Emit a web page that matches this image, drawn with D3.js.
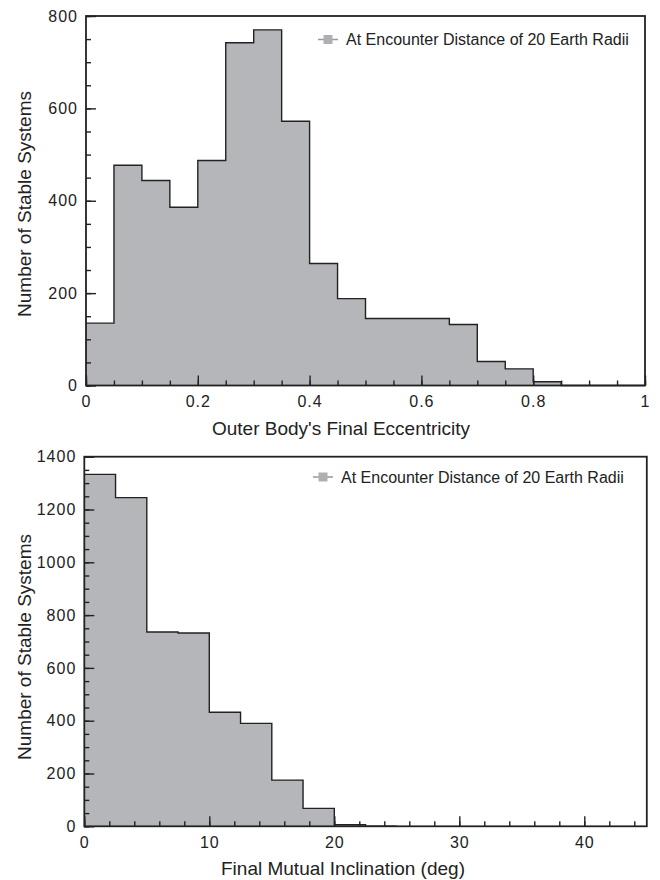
<!DOCTYPE html>
<html>
<head>
<meta charset="utf-8">
<script src="https://cdn.jsdelivr.net/npm/d3@7"></script>
<style>
  body { margin: 0; background: #fff; }
  text { font-family: "Liberation Sans", Arial, sans-serif; fill: #222; }
</style>
</head>
<body>
<svg id="chart" width="660" height="880"></svg>
<script>
// eccentricity histogram (bin width 0.05)
var eccBins = [0, 0.05, 0.1, 0.15, 0.2, 0.25, 0.3, 0.35, 0.4, 0.45, 0.5, 0.55, 0.6, 0.65, 0.7, 0.75, 0.8, 0.85, 0.9, 0.95];
var eccCounts = [135, 477, 444, 386, 487, 742, 770, 572, 264, 188, 145, 145, 145, 132, 52, 36, 8, 0, 0, 0];
var eccTicks = [0, 0.2, 0.4, 0.6, 0.8, 1];

// inclination histogram (bin width 2.5 deg)
var incBins = [0, 2.5, 5, 7.5, 10, 12.5, 15, 17.5, 20, 22.5];
var incCounts = [1333, 1245, 736, 732, 432, 390, 175, 68, 6, 0];
var incTicks = [0, 10, 20, 30, 40];

var legendLabel = "At Encounter Distance of 20 Earth Radii";

var svg = d3.select("#chart");

function drawPanel(opt) {
    var x = d3.scaleLinear().domain(opt.xDomain).range([opt.left, opt.right]);
    var y = d3.scaleLinear().domain(opt.yDomain).range([opt.bottom, opt.top]);
    var g = svg.append("g");

    // step points, closing at the end of the last bin
    var pts = opt.bins.map(function (b, i) { return [b, opt.counts[i]]; });
    var last = opt.bins.length - 1;
    pts.push([opt.bins[last] + opt.binWidth, opt.counts[last]]);

    g.append("path")
        .datum(pts)
        .attr("fill", "#b5b6b9")
        .attr("d", d3.area().curve(d3.curveStepAfter)
            .x(function (d) { return x(d[0]); })
            .y0(y(0))
            .y1(function (d) { return y(d[1]); }));

    g.append("path")
        .datum(pts)
        .attr("fill", "none")
        .attr("stroke", "#222")
        .attr("stroke-width", 1.4)
        .attr("d", d3.line().curve(d3.curveStepAfter)
            .x(function (d) { return x(d[0]); })
            .y(function (d) { return y(d[1]); }));

    // minor ticks
    g.append("g")
        .attr("transform", "translate(" + opt.left + ",0)")
        .call(d3.axisLeft(y).tickValues(d3.range(opt.yDomain[0], opt.yDomain[1] + 1, opt.yMinor)).tickSize(-5).tickFormat(""))
        .call(function (s) { s.select(".domain").remove(); });
    g.append("g")
        .attr("transform", "translate(0," + opt.bottom + ")")
        .call(d3.axisBottom(x).tickValues(d3.range(opt.xDomain[0], opt.xDomain[1] + 1e-9, opt.xMinor)).tickSize(-5).tickFormat(""))
        .call(function (s) { s.select(".domain").remove(); });

    // major ticks with labels
    var ya = g.append("g")
        .attr("transform", "translate(" + opt.left + ",0)")
        .call(d3.axisLeft(y).tickValues(d3.range(opt.yDomain[0], opt.yDomain[1] + 1, opt.yMajor)).tickSize(-10).tickPadding(8).tickFormat(d3.format("d")));
    ya.select(".domain").remove();
    var xa = g.append("g")
        .attr("transform", "translate(0," + opt.bottom + ")")
        .call(d3.axisBottom(x).tickValues(opt.xTicks).tickSize(-10).tickPadding(10).tickFormat(function (d) { return String(d); }));
    xa.select(".domain").remove();

    g.selectAll(".tick line").attr("stroke", "#222").attr("stroke-width", 1.4);
    g.selectAll(".tick text")
        .attr("font-family", "Liberation Sans, Arial, sans-serif")
        .attr("font-size", 16)
        .attr("letter-spacing", 1)
        .attr("fill", "#222");

    // frame
    g.append("rect")
        .attr("x", opt.left).attr("y", opt.top)
        .attr("width", opt.right - opt.left).attr("height", opt.bottom - opt.top)
        .attr("fill", "none").attr("stroke", "#222").attr("stroke-width", 1.8);

    // legend
    var lg = g.append("g").attr("transform", "translate(" + opt.legendX + "," + opt.legendY + ")");
    lg.append("line").attr("x1", -10).attr("x2", 10).attr("y1", 0).attr("y2", 0)
        .attr("stroke", "#999").attr("stroke-width", 1.5);
    lg.append("rect").attr("x", -4.5).attr("y", -4.5).attr("width", 9).attr("height", 9)
        .attr("fill", "#aeafb2");
    lg.append("text").attr("x", 18).attr("y", 5.5)
        .attr("font-size", 16).text(legendLabel);

    // axis titles
    g.append("text")
        .attr("x", opt.xTitleX).attr("y", opt.bottom + 49)
        .attr("text-anchor", "middle").attr("font-size", 19)
        .text(opt.xTitle);
    g.append("text")
        .attr("transform", "translate(31," + opt.yTitleY + ") rotate(-90)")
        .attr("text-anchor", "middle").attr("font-size", 19)
        .text("Number of Stable Systems");
}

drawPanel({
    bins: eccBins, counts: eccCounts, binWidth: 0.05,
    xDomain: [0, 1], yDomain: [0, 800],
    xTicks: eccTicks, xMinor: 0.05, yMajor: 200, yMinor: 50,
    left: 86, right: 645, top: 16, bottom: 385.5,
    legendX: 328, legendY: 39.5,
    xTitle: "Outer Body's Final Eccentricity", xTitleX: 341, yTitleY: 204
});

drawPanel({
    bins: incBins, counts: incCounts, binWidth: 2.5,
    xDomain: [0, 45], yDomain: [0, 1400],
    xTicks: incTicks, xMinor: 2, yMajor: 200, yMinor: 50,
    left: 84.3, right: 646.8, top: 456.7, bottom: 826.3,
    legendX: 323, legendY: 477,
    xTitle: "Final Mutual Inclination (deg)", xTitleX: 343, yTitleY: 647
});
</script>
</body>
</html>
